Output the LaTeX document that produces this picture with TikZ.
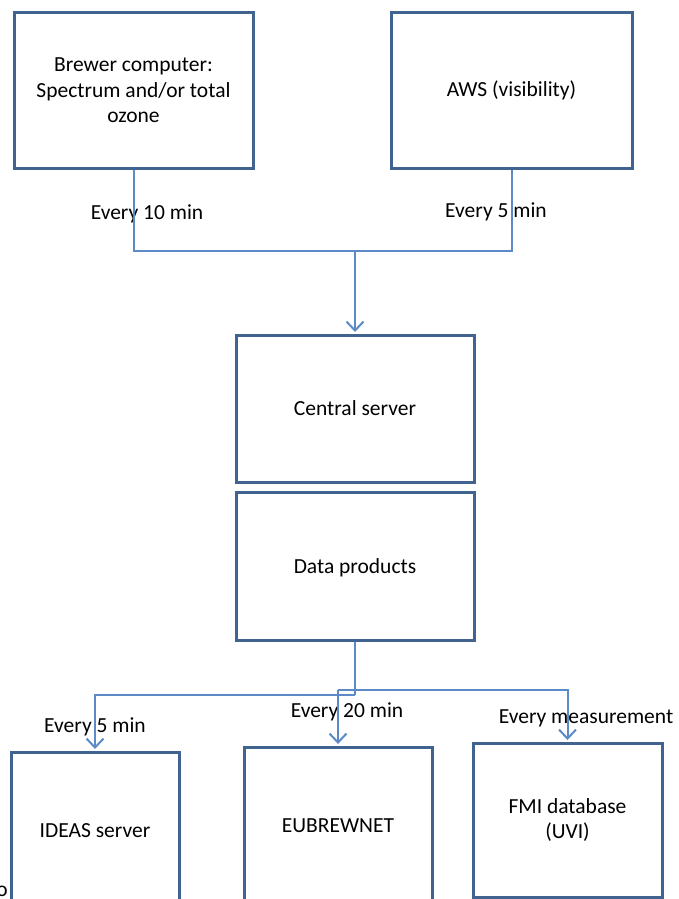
\documentclass[tikz,border=0pt]{standalone}
\usepackage{fontspec}
\setmainfont{Carlito}
\usetikzlibrary{arrows.meta}
\definecolor{boxc}{HTML}{41638F}
\definecolor{linec}{HTML}{5B8AC6}
\begin{document}
\begin{tikzpicture}[x=1pt,y=-1pt,
  box/.style={draw=boxc,line width=3pt,inner sep=0pt,align=center,
    font=\fontsize{21.5}{25.5}\selectfont},
  lbl/.style={inner sep=0pt,font=\fontsize{21.5}{25.5}\selectfont},
  conn/.style={draw=linec,line width=2pt},
  arr/.style={conn,-{Straight Barb[length=9pt,width=17pt,line width=2pt]}}]
\useasboundingbox (0,0) rectangle (678,899);
\node[box,minimum width=239pt,minimum height=155pt] (brewer) at (133.5,90.5)
  {Brewer computer:\\Spectrum and/or total\\ozone};
\node[box,minimum width=241pt,minimum height=155pt] (aws) at (511.5,90.5)
  {AWS (visibility)};
\node[box,minimum width=238pt,minimum height=147pt] (central) at (355,408.5)
  {Central server};
\node[box,minimum width=238pt,minimum height=148pt,text depth=-4pt] (data) at (355,566)
  {Data products};
\node[box,minimum width=168pt,minimum height=158pt] (ideas) at (95,831)
  {IDEAS server};
\node[box,minimum width=188pt,minimum height=158pt] (eub) at (338,826)
  {EUBREWNET};
\node[box,minimum width=189pt,minimum height=154pt] (fmi) at (567.5,820)
  {FMI database\\(UVI)};
\node[lbl] (l10) at (147,214) {Every 10 min};
\node[lbl] (l5) at (496,212) {Every 5 min};
\node[lbl] (b5) at (95,727) {Every 5 min};
\node[lbl] (b20) at (347,712) {Every 20 min};
\node[lbl] (bm) at (586,718) {Every measurement};
\node[lbl] (frag) at (2,891) {o};
\coordinate (j1) at (355,251);
\coordinate (d1) at (355,695);
\coordinate (d2) at (338,690);
\draw[conn] (brewer.south) |- (j1) -| (aws.south);
\draw[arr] (j1) -- ([yshift=1.5pt]central.north);
\draw[conn] (data.south) -- (d1);
\draw[arr] (d1) -| ([yshift=1.5pt]ideas.north);
\draw[arr] (d2) -- ([yshift=1.5pt]eub.north);
\draw[arr] (d2) -| ([yshift=1.5pt]fmi.north);
\end{tikzpicture}
\end{document}
